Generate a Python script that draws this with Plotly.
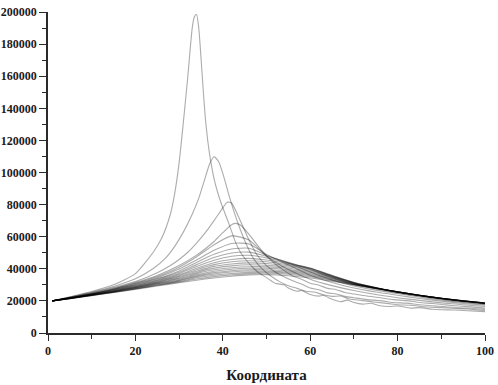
import plotly.graph_objects as go

# ---- data ----
X1 = [1, 5, 10, 15, 20, 24, 26, 28, 29, 30, 31, 32, 33, 33.5, 34, 34.5, 35, 35.5, 36, 36.5, 37, 37.5, 38, 39, 40, 41,
      42, 43, 44, 45.5, 47, 48, 50, 52, 54, 55, 57, 58, 60, 62, 63, 65, 67, 68.5, 70, 72, 74, 76, 78, 80, 83, 85, 88,
      90, 93, 95, 97, 100]
Y1 = [20000, 22500, 25800, 30000, 37000, 50000, 59000, 74000, 87000, 106000, 132000, 160000, 190000, 197000, 198500,
      190000, 172000, 152000, 134000, 121000, 111000, 103000, 96000, 86000, 78000, 71000,
      63500, 56000, 50500, 45000, 40500, 38000, 34500, 31000, 30000, 28000, 26000, 26500, 24000, 23000, 23500,
      21000, 19500, 20500, 19000, 18000, 18500, 17000, 16500, 16800, 15500, 15800, 14800, 14500, 14300, 14000,
      13800, 13300]

X2 = [1, 5, 10, 15, 20, 24, 27, 29, 31, 33, 34.5, 36, 37, 38, 39, 40, 41.5, 43, 44, 45.5, 47, 49, 51, 53, 55, 57, 59,
      61, 63, 65, 67, 69, 72, 75, 78, 80, 83, 86, 90, 93, 96, 100]
Y2 = [20000, 22300, 25300, 29000, 33800, 40000, 47000, 54000, 63000, 74000, 84000, 97000, 105500, 109800, 107000,
      99500, 85000, 72000, 64500, 54500, 46500, 40000, 35500, 32000, 29500, 27800, 26000, 25500, 23800, 22800,
      23000, 21200, 20200, 19200, 18300, 17600, 17300, 16400, 15800, 15300, 15000, 14000]

X3 = [1, 5, 10, 15, 20, 25, 28, 30, 32, 34, 36, 38, 40, 41, 42, 44, 46, 48, 50, 52, 54, 56, 58, 60, 62, 64, 66, 68, 70,
      73, 76, 79, 82, 85, 88, 91, 94, 97, 100]
Y3 = [20000, 22200, 25000, 28300, 32000, 37500, 42000, 45800, 50300, 56000, 62500, 70000, 78000, 81500, 81000,
      70000, 58000, 48000, 42000, 38000, 35000, 32500, 30500, 28000, 27000, 25000, 24300, 22800, 22000, 20800,
      20200, 19000, 18600, 17600, 17000, 16400, 15700, 15400, 14700]

X4 = [1, 5, 10, 15, 20, 25, 30, 34, 36, 38, 40, 42, 43, 44, 46, 48, 50, 52, 54, 56, 58, 60, 62, 64, 66, 68, 70, 73, 76,
      79, 82, 85, 88, 91, 94, 97, 100]
Y4 = [20000, 22100, 24700, 27800, 31400, 35800, 42000, 48500, 52500, 57000, 62500, 67500, 68300, 67300, 61500,
      54500, 48000, 43000, 39000, 35500, 33500, 31000, 29800, 27800, 27000, 25200, 24300, 23000, 22000, 20800,
      20200, 19000, 18400, 17500, 16800, 16300, 15500]

XG = [1, 5, 10, 15, 20, 25, 30, 34, 38, 42, 46, 50, 55, 60, 65, 70, 75, 80, 85, 90, 95, 100]
Y5 = [20000, 22000, 24500, 27500, 31000, 35200, 41000, 47500, 55000, 60500, 58000, 48000, 39500, 33500, 29500, 26500, 24000, 22000, 20300, 18800, 17600, 16500]
Y6 = [20000, 21950, 24400, 27300, 30600, 34500, 39800, 45500, 51500, 55800, 55500, 49000, 42500, 36000, 31500, 28000, 25500, 23500, 21500, 19800, 18400, 17300]
Y7 = [20000, 21900, 24300, 27100, 30200, 33900, 38700, 44000, 49000, 52300, 52800, 48500, 43500, 38000, 33000, 29300, 26700, 24600, 22400, 20500, 19000, 17800]
Y8 = [20000, 21850, 24200, 26900, 29900, 33400, 37800, 42600, 47000, 49800, 50400, 47800, 44000, 39500, 34500, 30300, 27400, 25000, 22900, 21000, 19400, 18100]
Y9 = [20000, 21800, 24100, 26700, 29600, 32900, 37000, 41400, 45300, 47800, 48400, 46800, 43700, 40200, 35300, 31000, 27900, 25200, 23200, 21200, 19600, 18300]
Y10 = [20000, 21750, 24000, 26500, 29300, 32500, 36300, 40300, 43800, 45800, 46500, 45500, 43200, 40500, 35800, 31400, 28200, 25400, 23300, 21400, 19800, 18400]
Y11 = [20000, 21700, 23900, 26350, 29000, 32100, 35600, 39400, 42600, 44400, 45000, 44400, 42600, 40300, 35800, 31500, 28300, 25500, 23400, 21500, 19900, 18500]
Y12 = [20000, 21650, 23850, 26200, 28800, 31700, 35000, 38500, 41500, 43000, 43700, 43300, 41900, 39800, 35500, 31400, 28300, 25500, 23400, 21500, 19900, 18500]
Y13 = [20000, 21600, 23800, 26050, 28600, 31400, 34400, 37700, 40400, 41800, 42500, 42200, 41100, 39100, 35200, 31200, 28200, 25600, 23450, 21550, 19950, 18550]
Y14 = [20000, 21550, 23700, 25900, 28400, 31100, 33900, 37000, 39400, 40700, 41300, 41200, 40300, 38400, 34800, 31000, 28100, 25600, 23450, 21550, 19950, 18550]
Y15 = [20000, 21500, 23650, 25800, 28200, 30800, 33400, 36300, 38500, 39700, 40300, 40300, 39500, 37700, 34400, 30800, 28000, 25600, 23500, 21600, 20000, 18600]
Y16 = [20000, 21480, 23600, 25650, 28000, 30500, 32900, 35600, 37600, 38800, 39400, 39400, 38700, 37000, 34000, 30600, 27950, 25600, 23500, 21600, 20000, 18600]
Y17 = [20000, 21450, 23500, 25550, 27800, 30200, 32500, 35000, 36800, 38000, 38600, 38600, 38000, 36300, 33600, 30400, 27900, 25600, 23500, 21600, 20000, 18650]
Y18 = [20000, 21400, 23450, 25450, 27600, 29900, 32100, 34400, 36000, 37100, 37800, 37900, 37300, 35700, 33200, 30200, 27850, 25650, 23500, 21600, 20000, 18650]
Y19 = [20000, 21350, 23400, 25300, 27400, 29600, 31700, 33600, 35100, 36200, 37000, 37200, 36600, 35000, 32800, 30100, 27800, 25650, 23500, 21600, 20000, 18700]
Y20 = [20000, 21300, 23300, 25200, 27200, 29300, 31300, 32900, 34300, 35400, 36200, 36400, 35700, 34300, 32300, 30000, 27800, 25600, 23500, 21600, 20000, 18700]

X_TICKS = [0, 20, 40, 60, 80, 100]
Y_TICKS = [0, 20000, 40000, 60000, 80000, 100000, 120000, 140000, 160000, 180000, 200000]
Y_TICK_LABELS = [str(v) for v in Y_TICKS]
X_TITLE = "Координата"

series = [(X1, Y1), (X2, Y2), (X3, Y3), (X4, Y4)] + [(XG, y) for y in
          [Y5, Y6, Y7, Y8, Y9, Y10, Y11, Y12, Y13, Y14, Y15, Y16, Y17, Y18, Y19, Y20]]

fig = go.Figure()
for xs, ys in series:
    fig.add_trace(go.Scatter(
        x=xs, y=ys, mode="lines",
        line=dict(color="rgb(0,0,0)", width=1.1, shape="spline", smoothing=0.6),
        opacity=0.32, showlegend=False, hoverinfo="skip"))

FONT = "Liberation Serif"
axis_common = dict(
    showline=True, linecolor="#2a2a2a", linewidth=1.6, showgrid=False, zeroline=False,
    ticks="outside", tickcolor="#2a2a2a", tickwidth=1.4,
    tickfont=dict(family=FONT, size=12, color="#1a1a1a", weight="bold"), automargin=False,
)
fig.update_xaxes(range=[0, 100], tickvals=X_TICKS, ticklen=6,
                 minor=dict(dtick=10, ticks="outside", ticklen=4, tickcolor="#2a2a2a", tickwidth=1.2),
                 title=dict(text=X_TITLE, font=dict(family=FONT, size=15, color="#1a1a1a", weight="bold"),
                            standoff=12),
                 **axis_common)
fig.update_yaxes(range=[0, 200000], tickvals=Y_TICKS, ticktext=Y_TICK_LABELS, ticklen=7,
                 minor=dict(dtick=10000, ticks="outside", ticklen=4, tickcolor="#2a2a2a", tickwidth=1.2),
                 **axis_common)
fig.update_layout(
    width=498, height=385,
    margin=dict(l=48, r=13, t=12, b=52),
    paper_bgcolor="white", plot_bgcolor="white",
)
fig.write_html("out.html", config={"displayModeBar": False},
               post_script="document.body.style.margin='0px';")
